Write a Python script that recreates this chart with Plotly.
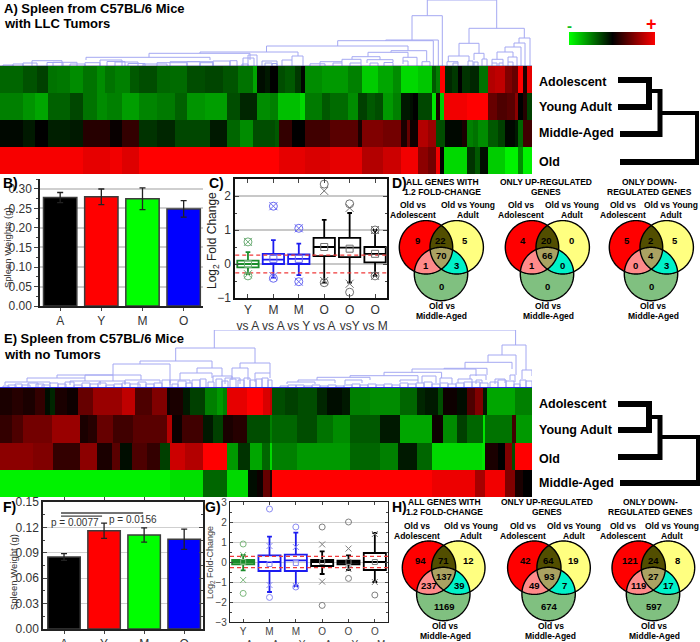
import math
import plotly.graph_objects as go

W, H = 700, 642
FONT = "Liberation Sans"

# ---------- heatmap A: per-condition runs (end gene position, colour value)
a_adol_end = [23,37,48,57,70,83,97,105,115,130,139,157,170,187,205,223,238,253,257,265,270,278,285,295,301,305,322,348,362,378,393,401,418,432,436,440,445,452,458,462,470,479,488,495,505,512,518,523,527,532]
a_adol_val = [-.4,-.32,-.25,-.45,-.47,-.55,-.45,-.55,-.45,-.5,-.35,-.3,-.4,-.42,-.3,-.27,-.33,-.45,-.65,-.05,-.1,0,-.3,-.35,-.22,-.02,-.55,-.6,-.5,-.8,-.65,-.55,-.85,-.78,-.35,-.5,1,-.15,-.22,0,-.2,-.15,-.45,.7,.75,.5,.4,1,.1,.9]
a_young_end = [23,35,48,70,83,97,107,122,139,157,175,187,205,227,240,257,270,278,300,305,322,330,348,358,367,375,383,393,401,410,413,418,432,436,440,444,467,488,497,507,515,518,523,527,532]
a_young_val = [-.5,-.58,-.65,-.38,-.28,-.45,-.55,-.5,-.62,-.52,-.48,-.38,-.58,-.62,-.3,-.15,-.55,-.5,-.75,-.85,-.48,-.35,-.42,-.55,-.25,-.35,-.3,-.6,-.5,-.1,-.05,0,-.28,-.9,.1,-.8,.95,1,.4,.3,.35,.55,0,.15,-.25]
a_mid_end = [23,35,48,70,83,110,122,139,157,175,210,227,240,253,270,275,279,292,305,330,358,362,383,401,407,410,418,428,436,445,462,467,473,478,488,498,505,515,518,523,532]
a_mid_val = [-.03,-.1,0,-.12,-.1,.15,.03,.2,-.2,-.15,-.28,-.1,-.4,-.55,-.3,-.3,-.35,.2,0,.25,.35,.1,.5,.45,.1,.4,.05,.7,.6,-.3,-.03,.1,-.5,-.45,-.55,-.35,-.25,-.03,-.1,-.4,.25]
a_old_end = [83,110,122,139,279,305,330,362,383,401,418,428,436,440,444,467,475,480,488,505,518,523,532]
a_old_val = [.97,.9,.95,.87,1,.9,.85,.9,.7,.8,.95,.55,.45,.95,0,-.85,-.2,-.35,-.05,-.8,-.95,-.55,-.95]

# ---------- heatmap E
e_adol_end = [12,23,35,45,50,55,67,78,93,122,135,152,167,170,183,190,205,217,223,227,247,263,270,272,285,298,317,327,342,350,370,400,417,425,438,443,457,467,475,483,487,515,532]
e_adol_val = [.1,.15,.1,.2,-.05,-.15,.1,.05,.4,.6,.75,.3,.5,.05,.1,-.1,-.25,-.5,-.6,-.5,.9,1,.85,.75,-.3,-.25,-.3,-.15,-.05,-.1,-.5,-.55,-.4,-.15,-.1,-.3,.05,-.05,.3,.5,-.1,-.65,-.5]
e_young_end = [12,23,52,80,88,97,113,133,167,172,182,203,213,223,233,247,270,272,297,317,333,350,380,400,432,443,457,467,483,485,512,516,532]
e_young_val = [.2,.3,.45,.6,.1,.15,.4,.25,.35,.7,.05,.25,-.1,-.25,.1,.15,-.3,-.5,-.4,-.3,-.45,-.55,-.35,-.1,-.65,.05,-.55,-.25,-.4,-.9,-.45,.25,-.6]
e_old_end = [33,53,80,97,112,120,132,147,160,170,185,203,227,238,250,262,270,272,297,350,380,398,417,432,482,485,498,505,512,515,532]
e_old_val = [.55,.5,.2,.55,.1,.35,-.05,.3,.2,-.25,.8,.7,1,-.6,-.2,-.65,-.4,-.85,-.5,-.6,-.4,-.5,-.1,-.4,-.85,-.9,.1,0,.5,-.3,1]
e_midd_end = [170,203,227,248,257,263,270,272,432,475,485,505,515,523,532]
e_midd_val = [-.95,-.88,-.4,-.85,-.05,.05,.4,.15,1,.93,.65,.95,.5,.1,0]

colorbar_levels = [-1,-.5,0,.5,1]

# ---------- dendrograms: links (left, right, left height, right height, top height)
a_links = [
 (427.3,496.7,50.3,37.7,66),(412,442.3,26,0,50.3),(385.7,438.3,25.3,0,26),(337.7,433.3,20,0,25.3),
 (266.5,408,14,15.3,20),(391,426.7,13.7,4.3,15.3),(368,408,9.3,8.7,13.7),(352,380,6.7,6.3,9.3),
 (403,417,5,0,8.7),(403,408,2,0,5),(422,430,0,0,4.3),(342,361,4.3,3,6.7),(367,393,3,4,6.3),(370,378,0,0,3),(384,393,0,0,3.5),
 (320,342,0,3,4.3),(333,342,0,0,3),(310,325,0,0,2.2),(350,361,0,0,3),
 (469,524.3,22.7,28,37.7),(459,479,10,12.7,22.7),(448.3,469,4.3,5,10),(474,484,6,7,12.7),(447,458,0,3,4.3),
 (453,458,0,0,3),(468,473,0,0,5),(482,487,0,0,7),(474,478,0,0,4),(519,530,23,0,28),(514,525,19,0,23),
 (505,521,14,0,19),(497,513,6.7,9,14),(492,503,3,3,6.7),(508,517,4,0,9),(508,513,0,0,4),(492,497,0,0,3),(499,503,0,0,3),
 (200,298,12.7,10,14),(149,250,8.7,6,12.7),(86,210,6,6,8.7),(292,303,6,0,10),(282,292,0,0,6),(262,277,0,0,5),
 (243,254,0,0,8),(265,272,0,0,3),(272,277,0,0,2.5),
 (3,13,0,0,1),(13,23,0,0,2),(23,37,0,0,3),(32,62,0,0,5.3),(47,63,0,0,3.5),(53,77,0,0,3.7),(70,85,0,0,2),(85,100,0,0,3.3),
 (100,122,0,0,6),(107,125,0,0,4.5),(115,138,0,0,4),(128,145,0,0,2.5),(143,167,0,0,2),(157,187,0,0,3.3),(170,200,0,0,4.3),
 (187,213,0,0,4.3),(200,213,0,0,3.3),(213,230,0,0,5),(230,237,0,0,5.3),(242,248,0,0,2),(248,257,0,0,11),
]
e_links = [
 (214.3,515.6,40,43,58),(175.7,255,27,25,40),(140,212,24,20,27),(113,170,13,5,24),(85,141,10,8,13),(57,113,10,7,13),
 (27,85,6,7,10),(5,50,3,4,6),(70,100,3,5,7),(100,125,3,4,7),(125,160,3,5,8),(197,222,15,12,20),(180,212,8,10,15),
 (213,232,6,8,12),(170,190,3,5,8),(240,270,20,15,25),(232,248,10,8,20),(255,270,6,10,15),(225,240,4,4,10),
 (502,526,33,18,43),(488,516,25.7,13,33),(465,512,19.7,19,25.7),(444,487,19,13,19.7),(412,476,15.7,12,19),(384,441.6,12.3,10,15.7),
 (350,418,10.7,8,12.3),(317,370,8,8,10.7),(298,335,6,5,8),(287,315,4,4,6),(522,532,9,12,18),(510,515,8,6,13),(470,486,9,8,13),
 (458,472,5,6,9),(476,482,4,5,8),(495,505,4,5,9),(345,362,4,5,8),(400,418,6,5,8),(422,436,5,5,12),(440,452,5,4,10),
]
e_fringe = [
 (3,9,2),(8,16,3),(15,22,4),(22,30,3),(28,38,5),(36,44,4),(42,50,3),(50,58,5),(58,66,4),(65,74,6),(74,82,3),(82,90,5),(90,98,4),
 (98,106,5),(106,114,3),(114,122,4),(122,130,5),(130,140,4),(138,146,6),(146,154,4),(154,162,5),(162,170,8),(172,178,4),(178,186,7),
 (186,192,5),(192,200,8),(200,206,9),(208,214,6),(216,222,9),(222,228,7),(230,236,9),(238,244,8),(244,250,10),(250,256,8),(256,262,9),(262,268,10),
 (268,272,8),(280,288,2),(288,296,3),(296,304,3),(304,312,2),(312,320,3),(320,328,2),(328,336,3),(336,344,2),(344,352,3),(352,360,4),
 (360,368,3),(368,376,4),(376,384,3),(384,392,4),(392,400,3),(400,408,5),(408,416,4),(416,424,5),(424,432,6),(432,440,4),(440,448,5),(448,456,4),
 (456,464,5),(464,472,6),(472,480,6),(480,488,5),(490,498,6),(498,506,8),(506,514,7),(514,520,4),(520,526,8),(526,532,7),
]

# ---------- bars
bar_labels = ["A","Y","M","O"]
bar_colors = ["#000000","#ff0000","#00ff00","#0000ff"]
b_values = [.278,.280,.275,.249]
b_errors = [.013,.020,.028,.021]
f_values = [.085,.116,.111,.106]
f_errors = [.004,.009,.0085,.012]

# ---------- boxes
box_labels_c = ["Y<br>vs A","M<br>vs A","M<br>vs Y","O<br>vs A","O<br>vsY","O<br>vs M"]
box_labels_g = ["Y<br>vs A","M<br>vs A","M<br>vs Y","O<br>vs A","O<br>vs Y","O<br>vs M"]
c_q1 =   [-.1,0,0,.23,.2,.05]
c_med =  [0,.13,.15,.5,.48,.3]
c_q3 =   [.1,.3,.28,.77,.77,.5]
c_low =  [-.3,-.4,-.33,-.55,-.55,-.35]
c_high = [.35,.7,.6,1.3,1.5,1.0]
c_mean = [0,.15,.15,.5,.45,.3]
c_circ = [[.65,-.35],[1.7,-.42],[1.05,-.52],[2.35,-.55],[1.77,-.83],[1.0,-.35]]
c_xs =   [[.65,-.3],[1.7,-.36],[1.05,-.52],[2.15,-.5],[1.65,-.58],[1.0,-.35]]
g_q1 =   [-.12,-.45,-.45,-.2,-.12,-.4]
g_med =  [0,0,.08,0,-.02,0]
g_q3 =   [.1,.33,.37,.1,.07,.45]
g_low =  [-.42,-1.5,-1.2,-.6,-.4,-1.0]
g_high = [.35,1.27,1.47,.53,.33,1.45]
g_mean = [0,-.1,-.05,0,0,0]
g_circ = [[.9,-1.57],[2.65,-1.77],[1.75,-1.25],[1.75,-2.17],[2.0,-.82],[-1.65]]
g_xs =   [[.35,-.9],[.8,-1.15],[.75,-1.2],[.88,-.98],[.67,-.35],[1.4,-1.0]]

# ---------- venn counts: A only, A&Y, Y only, A&M, all, Y&M, M only
venn_d = [[9,22,5,1,70,3,0],[4,20,0,1,66,0,0],[5,2,5,0,4,3,0]]
venn_h = [[94,71,12,237,137,39,1169],[42,64,19,49,93,7,674],[121,24,8,119,27,17,597]]

fig = go.Figure()

def dx(a, b): return [a / W, b / W]
def dy(a, b): return [1 - b / H, 1 - a / H]

def grid_rows(rows):
    edges = sorted({0} | {e for end, _ in rows for e in end})
    z = []
    for end, val in rows:
        out, i = [], 0
        for k in range(len(edges) - 1):
            while end[i] <= edges[k]:
                i += 1
            out.append(val[i])
        z.append(out)
    return edges, z

GRB = [[0, "#00ff00"], [.5, "#000000"], [1, "#ff0000"]]

def heat(rows, xa, ya):
    edges, z = grid_rows(rows)
    fig.add_trace(go.Heatmap(x=edges, y=[0, 1, 2, 3, 4], z=z, colorscale=GRB, zmin=-1, zmax=1,
                             showscale=False, xaxis=xa, yaxis=ya, hoverinfo="skip"))

def dendro(links, fringe, xa, ya, base_color, base_w):
    xs, ys = [], []
    for l, r, hl, hr, t in links:
        xs += [l, l, r, r, None]
        ys += [hl, t, t, hr, None]
    for l, r, t in fringe:
        xs += [l, l, r, r, None]
        ys += [0, t, t, 0, None]
    fig.add_trace(go.Scatter(x=xs, y=ys, mode="lines", xaxis=xa, yaxis=ya, hoverinfo="skip",
                             line=dict(color="#a4a8f2", width=1)))
    fig.add_trace(go.Scatter(x=[0, 532], y=[0, 0], mode="lines", xaxis=xa, yaxis=ya, hoverinfo="skip",
                             line=dict(color=base_color, width=base_w)))

heat([(a_adol_end, a_adol_val), (a_young_end, a_young_val), (a_mid_end, a_mid_val), (a_old_end, a_old_val)], "x2", "y2")
heat([(e_adol_end, e_adol_val), (e_young_end, e_young_val), (e_old_end, e_old_val), (e_midd_end, e_midd_val)], "x8", "y8")
dendro(a_links, [], "x3", "y3", "#5a5e9a", 1)
dendro(e_links, e_fringe, "x9", "y9", "#2a2ae6", 2)

fig.add_trace(go.Heatmap(z=[colorbar_levels], colorscale=GRB, zmin=-1, zmax=1, zsmooth="best",
                         showscale=False, xaxis="x10", yaxis="y10", hoverinfo="skip"))

def bars(vals, errs, xa, ya):
    fig.add_trace(go.Bar(x=list(range(4)), y=vals, width=.81, xaxis=xa, yaxis=ya,
                         marker=dict(color=bar_colors, line=dict(color="#3c3c3c", width=1.5)),
                         error_y=dict(type="data", array=errs, color="#222222", thickness=1.3, width=3),
                         hoverinfo="skip"))

bars(b_values, b_errors, "x4", "y4")
bars(f_values, f_errors, "x6", "y6")

def boxes(q1, med, q3, low, high, mean, circ, xs, colors, fills, light, xa, ya, ref, msize):
    for v in ref:
        fig.add_trace(go.Scatter(x=[-.5, 5.5], y=[v, v], mode="lines", xaxis=xa, yaxis=ya, hoverinfo="skip",
                                 line=dict(color="#f03a3a", width=1.3, dash="4px,3px")))
    for i in range(6):
        fig.add_trace(go.Box(x=[i], q1=[q1[i]], median=[med[i]], q3=[q3[i]], lowerfence=[low[i]], upperfence=[high[i]],
                             width=.84, whiskerwidth=.22, xaxis=xa, yaxis=ya, boxpoints=False, fillcolor=fills[i],
                             line=dict(color=colors[i], width=1.8), hoverinfo="skip"))
        fig.add_trace(go.Scatter(x=[i] * len(circ[i]), y=circ[i], mode="markers", xaxis=xa, yaxis=ya, hoverinfo="skip",
                                 marker=dict(symbol="circle-open", size=msize, color=light[i], line=dict(width=1))))
        fig.add_trace(go.Scatter(x=[i] * len(xs[i]), y=xs[i], mode="markers", xaxis=xa, yaxis=ya, hoverinfo="skip",
                                 marker=dict(symbol="x-thin-open", size=msize, color=light[i], line=dict(width=1, color=light[i]))))
        fig.add_trace(go.Scatter(x=[i], y=[mean[i]], mode="markers", xaxis=xa, yaxis=ya, hoverinfo="skip",
                                 marker=dict(symbol="square-open", size=msize - 1, color=light[i], line=dict(width=1))))

boxes(c_q1, c_med, c_q3, c_low, c_high, c_mean, c_circ, c_xs,
      ["#1a8c2a", "#1c1cf0", "#1c1cf0", "#000", "#000", "#000"], ["rgba(0,0,0,0)"] * 6,
      ["#6fae78", "#6a6af2", "#6a6af2", "#707070", "#707070", "#707070"], "x5", "y5", [.263, -.263], 8)
boxes(g_q1, g_med, g_q3, g_low, g_high, g_mean, g_circ, g_xs,
      ["#1a8c2a", "#1c1cf0", "#1c1cf0", "#000", "#000", "#000"],
      ["#7cc07c", "rgba(0,0,0,0)", "rgba(0,0,0,0)", "rgba(0,0,0,0)", "#555555", "rgba(0,0,0,0)"],
      ["#7cb87c", "#8a8af2", "#8a8af2", "#808080", "#808080", "#808080"], "x7", "y7", [.28, -.28], 6)

# significance brackets in F
for x0, x1, yv in [(-.075, 1.975, .137), (-.075, .95, .1334)]:
    fig.add_trace(go.Scatter(x=[x0, x1], y=[yv, yv], mode="lines", xaxis="x6", yaxis="y6", hoverinfo="skip",
                             line=dict(color="#444444", width=1.3)))

# right-hand sample trees, in overlay pixels
def tree(segments):
    for x0, y0, x1, y1, w in segments:
        fig.add_trace(go.Scatter(x=[x0, x1], y=[y0, y1], mode="lines", xaxis="x", yaxis="y", hoverinfo="skip",
                                 line=dict(color="#000", width=w)))

tree([(618, 80, 652, 80, 6), (618, 107, 652, 107, 6), (649, 77, 649, 110, 6), (650, 91, 662, 91, 4), (660, 89, 660, 137, 5),
      (620, 134, 662, 134, 6), (660, 113, 699, 113, 4), (697, 111, 697, 165, 4), (620, 162, 699, 162, 6)])
tree([(618, 404, 652, 404, 6), (618, 430, 652, 430, 6), (649, 401, 649, 433, 6), (650, 417, 662, 417, 4), (660, 415, 660, 460, 5),
      (618, 457, 662, 457, 6), (660, 437, 700, 437, 4), (698, 435, 698, 486, 4), (620, 483, 700, 483, 6)])

shapes, notes = [], []

def note(x, y, text, size=10, color="#000", bold=False, anchor="center", angle=0):
    notes.append(dict(x=x, y=y, xref="x", yref="y", text=f"<b>{text}</b>" if bold else text, showarrow=False,
                      xanchor=anchor, yanchor="middle", textangle=angle,
                      font=dict(family=FONT, size=size, color=color)))

def circle_pts(c, n=180):
    return [(c[0] + c[2] * math.cos(2 * math.pi * k / n), c[1] + c[2] * math.sin(2 * math.pi * k / n)) for k in range(n)]

def region(circles):
    pts = []
    for i, c in enumerate(circles):
        for p in circle_pts(c, 360):
            if all(math.hypot(p[0] - o[0], p[1] - o[1]) <= o[2] + 1e-6 for j, o in enumerate(circles) if j != i):
                pts.append(p)
    mx = sum(p[0] for p in pts) / len(pts)
    my = sum(p[1] for p in pts) / len(pts)
    pts.sort(key=lambda p: math.atan2(p[1] - my, p[0] - mx))
    return pts

def poly(pts, fill, line=None):
    d = "M " + " L ".join(f"{x:.2f} {y:.2f}" for x, y in pts) + " Z"
    shapes.append(dict(type="path", path=d, xref="x", yref="y", fillcolor=fill, layer="above",
                       line=dict(color=line or "rgba(0,0,0,0)", width=1.4 if line else 0)))

def venn(rx, ry, yx, yy, gx, gy, r, counts):
    R, Y, G = (rx, ry, r), (yx, yy, r), (gx, gy, r)
    poly(circle_pts(R), "#ff0000")
    poly(circle_pts(Y), "#ffff80")
    poly(circle_pts(G), "#80c080")
    poly(region([R, Y]), "#524e00")
    poly(region([R, G]), "#ff8a8a")
    poly(region([Y, G]), "#00f2c8")
    poly(region([R, Y, G]), "#aaa262")
    for c in (R, Y, G):
        poly(circle_pts(c), "rgba(0,0,0,0)", "#000")
    offs = [(-8.7, -7.3), (14.3, -7.3), (39, -7.3), (-.3, 18), (15, 8.3), (30, 18), (15, 38.7)]
    for v, (ox, oy) in zip(counts, offs):
        note(rx + ox, ry + oy, str(v), 9.5, bold=True)

d_x = [0, 106, 210]
h_x = [0, 105.3, 209.7]
for i in range(3):
    venn(426 + d_x[i], 247.3, 456.7 + d_x[i], 247.3, 441 + d_x[i], 274, 26.7, venn_d[i])
    venn(429 + h_x[i], 567.7, 458.3 + h_x[i], 567.7, 443.3 + h_x[i], 594, 26.7, venn_h[i])

TS = 8.5
for cx, l1, l2 in [(442.7, "ALL GENES WITH", "1.2 FOLD-CHANGE"), (545.7, "ONLY UP-REGULATED", "GENES"), (649, "ONLY DOWN-", "REGULATED GENES")]:
    note(cx, 182, l1, TS, bold=True); note(cx, 192, l2, TS, bold=True)
for cx, l1, l2 in [(444, "ALL GENES WITH", "1.2 FOLD-CHANGE"), (547.3, "ONLY UP-REGULATED", "GENES"), (650.7, "ONLY DOWN-", "REGULATED GENES")]:
    note(cx, 502.3, l1, TS, bold=True); note(cx, 512, l2, TS, bold=True)
for a, b, c in [(413, 468, 441.7), (520.7, 572.3, 548), (622.7, 670.7, 653.3)]:
    note(a, 205, "Old vs", TS, bold=True); note(a, 215, "Adolescent", TS, bold=True)
    note(b, 205, "Old vs Young", TS, bold=True); note(b, 215, "Adult", TS, bold=True)
    note(c, 306, "Old vs", TS, bold=True); note(c, 316, "Middle-Aged", TS, bold=True)
for a, b, c in [(416.7, 470.7, 445), (522.7, 574, 550.7), (623.3, 671.7, 654)]:
    note(a, 525.7, "Old vs", TS, bold=True); note(a, 535.7, "Adolescent", TS, bold=True)
    note(b, 525.7, "Old vs Young", TS, bold=True); note(b, 535.7, "Adult", TS, bold=True)
    note(c, 626, "Old vs", TS, bold=True); note(c, 636, "Middle-Aged", TS, bold=True)

note(2, 8, "A) Spleen from C57BL/6 Mice", 13, bold=True, anchor="left")
note(2, 23, "with LLC Tumors", 13, bold=True, anchor="left")
note(2, 338, "E) Spleen from C57BL/6 Mice", 13, bold=True, anchor="left")
note(2, 354, "with no Tumors", 13, bold=True, anchor="left")
for y, t in [(82, "Adolescent"), (107, "Young Adult"), (133, "Middle-Aged"), (162, "Old"),
             (404, "Adolescent"), (430, "Young Adult"), (459, "Old"), (483, "Middle-Aged")]:
    note(537, y, t, 12.5, bold=True, anchor="left")
note(569, 25, "-", 15, "#10c020", True)
note(651, 24, "+", 18, "#ff0000", True)
note(1, 183, "B)", 14, bold=True, anchor="left")
note(207, 183, "C)", 14, bold=True, anchor="left")
note(390, 183, "D)", 14, bold=True, anchor="left")
note(1, 507, "F)", 14, bold=True, anchor="left")
note(203, 507, "G)", 14, bold=True, anchor="left")
note(390, 507, "H)", 14, bold=True, anchor="left")
note(7, 248, "Spleen Weights (g)", 9.5, "#333", angle=-90)
note(13, 572, "Spleen Weight (g)", 9.5, "#333", angle=-90)
note(213, 241, "Log<sub>2</sub> Fold Change", 12, "#222", angle=-90)
note(210, 563, "Log<sub>2</sub> Fold-Change", 9, "#444", angle=-90)
note(75, 522, "p = 0.0077", 10, "#333")
note(133, 519, "p = 0.0156", 10, "#333")

def plain(**k):
    return dict(visible=False, fixedrange=True, showgrid=False, zeroline=False, **k)

TICK = dict(family=FONT, size=12, color="#333")
layout = dict(
    width=W, height=H, margin=dict(l=0, r=0, t=0, b=0, pad=0, autoexpand=False), autosize=False, paper_bgcolor="#fff", plot_bgcolor="rgba(0,0,0,0)",
    showlegend=False, barmode="overlay", font=dict(family=FONT),
    xaxis=plain(domain=[0, 1], range=[0, W]), yaxis=plain(domain=[0, 1], range=[H, 0]),
    xaxis2=plain(domain=dx(0, 532), range=[0, 532]), yaxis2=plain(domain=dy(66, 174), range=[4, 0]),
    xaxis3=plain(domain=dx(0, 532), range=[0, 532]), yaxis3=plain(domain=dy(0, 66), range=[0, 66]),
    xaxis8=plain(domain=dx(0, 532), range=[0, 532]), yaxis8=plain(domain=dy(388, 497), range=[4, 0]),
    xaxis9=plain(domain=dx(0, 532), range=[0, 532]), yaxis9=plain(domain=dy(330, 388), range=[0, 58]),
    xaxis10=plain(domain=dx(569, 655), range=[0, 4]), yaxis10=plain(domain=dy(32, 45), range=[-.5, .5]),
    xaxis4=dict(domain=dx(40, 203), range=[-.49, 3.47], tickvals=[0, 1, 2, 3], ticktext=bar_labels, showgrid=False, zeroline=False,
                showline=True, linecolor="#222", linewidth=1.5, ticks="outside", ticklen=3, tickfont=TICK, anchor="y4"),
    yaxis4=dict(domain=dy(179, 306), range=[0, .3256], dtick=.05, tickformat=".2f", showgrid=True, gridcolor="#cfcfcf", gridwidth=1.5,
                zeroline=False, showline=True, linecolor="#222", linewidth=1.5, ticks="outside", ticklen=4, tickfont=TICK, anchor="x4",
                minor=dict(dtick=.025, ticks="outside", ticklen=2, showgrid=False)),
    xaxis5=dict(domain=dx(235, 387), range=[-.51, 5.47], tickvals=list(range(6)), ticktext=box_labels_c, showgrid=False, zeroline=False,
                showline=True, mirror="allticks", linecolor="#111", linewidth=1.5, ticks="inside", ticklen=4, tickfont=TICK, anchor="y5"),
    yaxis5=dict(domain=dy(179, 298), range=[-1, 2.5], dtick=1, showgrid=True, gridcolor="#c8c8c8", gridwidth=1.5, zeroline=False,
                showline=True, mirror="allticks", linecolor="#111", linewidth=1.5, ticks="inside", ticklen=4, tickfont=TICK, anchor="x5",
                minor=dict(dtick=.5, ticks="inside", ticklen=2, showgrid=False)),
    xaxis6=dict(domain=dx(43, 203), range=[-.525, 3.47], tickvals=[0, 1, 2, 3], ticktext=bar_labels, showgrid=False, zeroline=False,
                showline=True, mirror="allticks", linecolor="#222", linewidth=1.5, ticks="outside", ticklen=3, tickfont=TICK, anchor="y6"),
    yaxis6=dict(domain=dy(502, 629), range=[0, .15], dtick=.03, tickformat=".2f", showgrid=True, gridcolor="#cfcfcf", gridwidth=1.3,
                zeroline=False, showline=True, mirror="allticks", linecolor="#222", linewidth=1.5, ticks="inside", ticklen=4, tickfont=TICK, anchor="x6",
                minor=dict(dtick=.015, ticks="inside", ticklen=2, showgrid=False)),
    xaxis7=dict(domain=dx(230, 388), range=[-.5, 5.5], tickvals=list(range(6)), ticktext=box_labels_g, showgrid=False, zeroline=False,
                showline=True, mirror="allticks", linecolor="#222", linewidth=1.3, ticks="inside", ticklen=3,
                tickfont=dict(family=FONT, size=10, color="#444"), anchor="y7"),
    yaxis7=dict(domain=dy(502, 622), range=[-3, 3], dtick=1, showgrid=True, gridcolor="#cfcfcf", gridwidth=1.2, zeroline=False,
                showline=True, mirror="allticks", linecolor="#222", linewidth=1.3, ticks="inside", ticklen=3,
                tickfont=dict(family=FONT, size=10, color="#444"), anchor="x7",
                minor=dict(dtick=.5, ticks="inside", ticklen=2, showgrid=False)),
    shapes=shapes, annotations=notes,
)
fig.update_layout(**layout)
fig.write_html("out.html", post_script="document.body.style.margin='0';", config=dict(displayModeBar=False))
